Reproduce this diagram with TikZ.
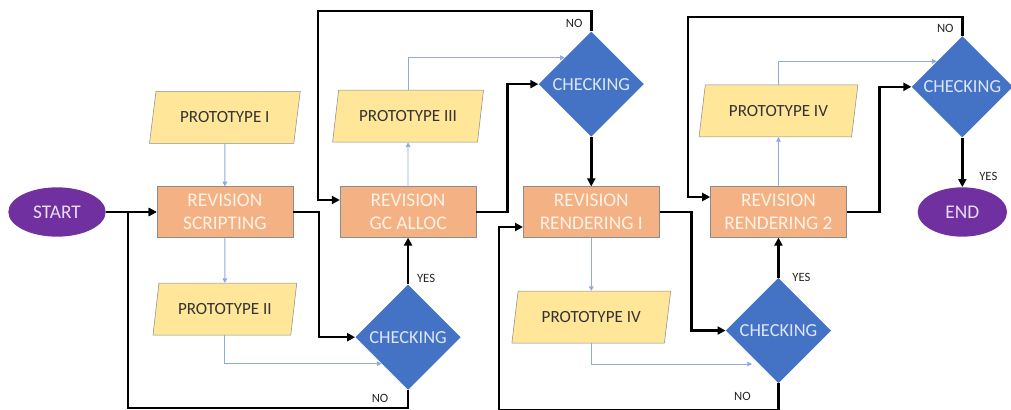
\documentclass[tikz,border=0pt]{standalone}
\usepackage{fontspec}
\setmainfont{Carlito}
\usetikzlibrary{shapes.geometric, arrows.meta, positioning, calc}

\definecolor{termpurple}{HTML}{7030A0}
\definecolor{termtext}{HTML}{E8DDF4}
\definecolor{boxorange}{HTML}{F4B183}
\definecolor{boxline}{HTML}{8C8C8C}
\definecolor{boxtext}{HTML}{FFF3E8}
\definecolor{protoyellow}{HTML}{FFE699}
\definecolor{protoline}{HTML}{8C8C8C}
\definecolor{prototext}{HTML}{333333}
\definecolor{checkblue}{HTML}{4472C4}
\definecolor{checktext}{HTML}{DCE6F7}
\definecolor{feedblue}{HTML}{8FAADC}

\begin{document}
\begin{tikzpicture}[
    x=0.75pt, y=-0.75pt,
    node distance=35pt,
    terminal/.style={ellipse, fill=termpurple, minimum width=73pt, minimum height=37pt, text=termtext, font=\fontsize{14.5}{16}\selectfont},
    block/.style={draw=boxline, fill=boxorange, minimum width=102pt, minimum height=38pt, align=center, text=boxtext, inner sep=1pt, font=\fontsize{14.5}{17}\selectfont},
    proto/.style={trapezium, trapezium left angle=77, trapezium right angle=103, trapezium stretches=true, draw=protoline, fill=protoyellow, minimum width=114pt, minimum height=39pt, text=prototext, font=\fontsize{12.8}{14}\selectfont},
    check/.style={diamond, aspect=1, fill=checkblue, minimum width=79pt, minimum height=79pt, inner sep=0pt, text=checktext, font=\fontsize{13.8}{16}\selectfont},
    arrow/.style={-{Triangle[length=6pt,width=6pt]}, line width=1.9pt},
    feed/.style={-{Triangle[length=3.5pt,width=3.5pt]}, draw=feedblue, line width=0.6pt},
    lbl/.style={font=\fontsize{9.5}{11}\selectfont, text=black!85}
]
\useasboundingbox (0,0) rectangle (1011,410);

% main row
\node[terminal] (start) at (57,212) {START};
\node[block, right=38pt of start] (scr) {REVISION\\SCRIPTING};
\node[block, right=35pt of scr] (gc) {REVISION\\GC ALLOC};
\node[block, right=35pt of gc] (rend1) {REVISION\\RENDERING I};
\node[block, right=38pt of rend1] (rend2) {REVISION\\RENDERING 2};
\node[terminal, right=53pt of rend2, minimum width=67pt] (end) {END};

% checks
\node[check, below=35pt of gc] (chk1) {CHECKING};
\node[check, above=37pt of rend1] (chk2) {CHECKING};
\node[check, below=30pt of rend2] (chk3) {CHECKING};
\node[check, above=37pt of end, minimum width=76pt, minimum height=76pt] (chk4) {CHECKING};

% prototypes
\node[proto, above=32pt of scr] (proto1) {PROTOTYPE I};
\node[proto, below=34pt of scr, minimum width=108pt] (proto2) {PROTOTYPE II};
\node[proto, above=33pt of gc] (proto3) {PROTOTYPE III};
\node[proto, below=40pt of rend1, minimum width=120pt] (proto4a) {PROTOTYPE IV};
\node[proto, above=37pt of rend2, minimum width=120pt] (proto4b) {PROTOTYPE IV};

% main flow
\draw[arrow] (start) -- (scr);
\draw[arrow] (scr.east) -- ++(26,0) |- (chk1.west);
\draw[arrow] (chk1.north) -- (gc.south);
\draw[arrow] (chk1.south) -- ++(0,18) -| ($(start.east)+(22,0)$) -- (scr.west);
\draw[arrow] (gc.east) -- ++(31,0) |- (chk2.west);
\draw[arrow] (chk2.north) -- ++(0,-20) -| ($(gc.west)+(-22,-12)$) -- ($(gc.west)+(0,-12)$);
\draw[arrow] (chk2.south) -- (rend1.north);
\draw[arrow] (rend1.east) -- ++(32,0) |- (chk3.west);
\draw[arrow] (chk3.north) -- (rend2.south);
\draw[arrow] (chk3.south) -- ++(0,27) -| ($(rend1.west)+(-24,15)$) -- ($(rend1.west)+(0,15)$);
\draw[arrow] (rend2.east) -- ++(33,0) |- (chk4.west);
\draw[arrow] (chk4.north) -- ++(0,-19) -| ($(rend2.west)+(-22,-15)$) -- ($(rend2.west)+(0,-15)$);
\draw[arrow] (chk4.south) -- (end.north);

% prototype feeds
\draw[feed] (proto1) -- (scr);
\draw[feed] (scr) -- (proto2);
\draw[feed] (proto2.south) |- (chk1.south west);
\draw[feed] (gc) -- (proto3);
\draw[feed] (proto3.north) |- (chk2.north west);
\draw[feed] (rend1) -- (proto4a);
\draw[feed] (proto4a.south) |- ($(chk3.south west)+(0,7)$);
\draw[feed] (rend2) -- (proto4b);
\draw[feed] (proto4b.north) |- (chk4.north west);

% yes / no
\node[lbl] (yes1) at ($(chk1.north)+(18,-6)$) {YES};
\node[lbl] (no1) at ($(chk1.south)+(-28,8)$) {NO};
\node[lbl] (no2) at ($(chk2.north)+(-17,-8)$) {NO};
\node[lbl] (yes3) at ($(chk3.north)+(23,0)$) {YES};
\node[lbl] (no3) at ($(chk3.south)+(-36,13)$) {NO};
\node[lbl] (no4) at ($(chk4.north)+(-17,-7)$) {NO};
\node[lbl] (yes4) at ($(chk4.south)+(26,39)$) {YES};

\end{tikzpicture}
\end{document}
